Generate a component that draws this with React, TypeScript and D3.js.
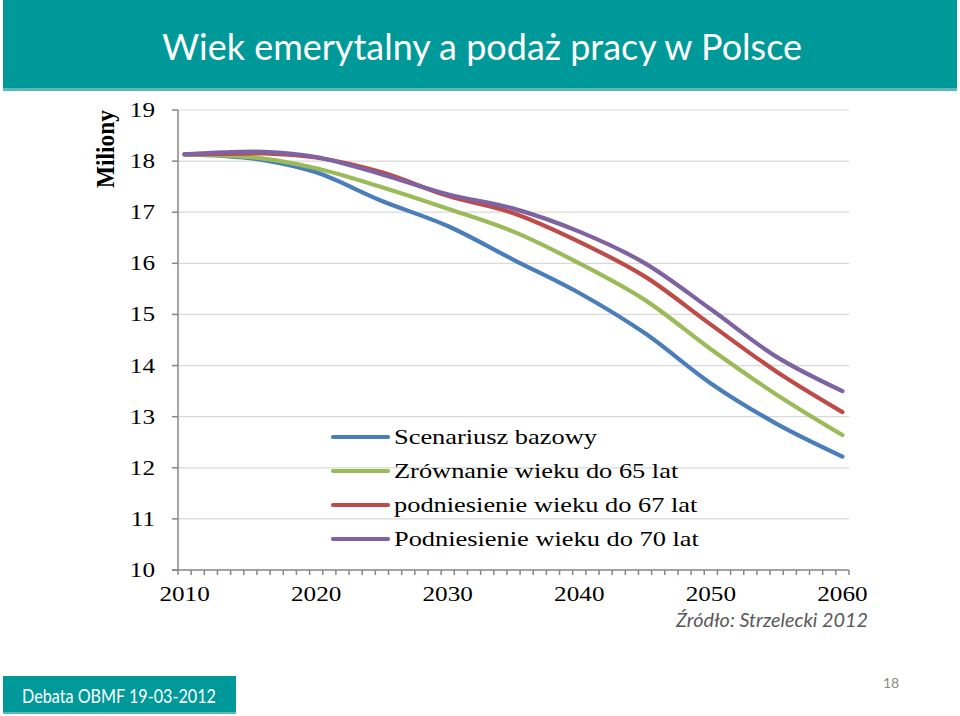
import React from "react";
import * as d3 from "d3";

const years = [2010, 2013, 2016, 2020, 2025, 2030, 2035, 2040, 2045, 2050, 2055, 2060];
const bazowy = [18.13, 18.1, 18.02, 17.78, 17.22, 16.73, 16.07, 15.42, 14.63, 13.65, 12.86, 12.22];
const zrownanie65 = [18.13, 18.11, 18.05, 17.86, 17.49, 17.07, 16.62, 16.0, 15.28, 14.32, 13.43, 12.64];
const podniesienie67 = [18.13, 18.14, 18.15, 18.07, 17.78, 17.32, 16.98, 16.42, 15.74, 14.8, 13.88, 13.09];
const podniesienie70 = [18.13, 18.17, 18.18, 18.08, 17.74, 17.35, 17.07, 16.62, 16.0, 15.1, 14.17, 13.5];

const seriesNames = [
  "Scenariusz bazowy",
  "Zrównanie wieku do 65 lat",
  "podniesienie wieku do 67 lat",
  "Podniesienie wieku do 70 lat",
];
const seriesColors = ["#4a7ebb", "#9bbb59", "#be4b48", "#7f62a1"];
const seriesValues = [bazowy, zrownanie65, podniesienie67, podniesienie70];

const yTicks = [10, 11, 12, 13, 14, 15, 16, 17, 18, 19];
const xTickLabels = [2010, 2020, 2030, 2040, 2050, 2060];

const title = "Wiek emerytalny a podaż pracy w Polsce";
const yAxisTitle = "Miliony";
const sourceText = "Źródło: Strzelecki 2012";
const footerText = "Debata OBMF 19-03-2012";
const pageNumber = "18";

const TEAL = "#009999";
const AXIS = "#868686";
const GRID = "#d9d9d9";
const SERIF = "'Liberation Serif', 'Times New Roman', serif";
const SANS = "Lato, 'Open Sans', sans-serif";

export default function App() {
  const W = 960;
  const H = 716;
  const plotLeft = 178;
  const plotRight = 849;
  const plotTop = 110;
  const plotBottom = 570;

  const x = d3.scaleLinear().domain([2009.5, 2060.5]).range([plotLeft, plotRight]);
  const y = d3.scaleLinear().domain([10, 19]).range([plotBottom, plotTop]);

  const line = d3
    .line<[number, number]>()
    .x((d) => x(d[0]))
    .y((d) => y(d[1]))
    .curve(d3.curveCatmullRom.alpha(0.5));

  const boundaryTicks = d3.range(2009.5, 2061, 1);

  const legendX1 = 333;
  const legendX2 = 388;
  const legendY0 = 437;
  const legendStep = 34;

  return (
    <svg
      width={W}
      height={H}
      viewBox={`0 0 ${W} ${H}`}
      style={{ position: "absolute", left: 0, top: 0, background: "#fff" }}
    >
      {/* header */}
      <rect x={3} y={0} width={954} height={90} fill={TEAL} />
      <rect x={3} y={88} width={954} height={3} fill="#5fb8b8" />
      <text
        x={482}
        y={60}
        textAnchor="middle"
        fill="#fff"
        fontFamily={SANS}
        fontSize={37}
        textLength={640}
        lengthAdjust="spacingAndGlyphs"
      >
        {title}
      </text>

      {/* gridlines */}
      {yTicks
        .filter((t) => t > 10)
        .map((t) => (
          <line key={"g" + t} x1={plotLeft} x2={plotRight} y1={y(t)} y2={y(t)} stroke={GRID} strokeWidth={1.2} />
        ))}

      {/* y axis */}
      <line x1={plotLeft} x2={plotLeft} y1={plotTop} y2={plotBottom} stroke={AXIS} strokeWidth={1.5} />
      {yTicks.map((t) => (
        <line key={"yt" + t} x1={plotLeft - 6} x2={plotLeft} y1={y(t)} y2={y(t)} stroke={AXIS} strokeWidth={1.5} />
      ))}
      {yTicks.map((t) => (
        <text
          key={"yl" + t}
          transform={`translate(155,${y(t) + 7}) scale(1.2,1)`}
          textAnchor="end"
          fontFamily={SERIF}
          fontSize={21}
          fill="#000"
        >
          {t}
        </text>
      ))}
      <text
        transform={`translate(114,149) rotate(-90) scale(0.9,1)`}
        textAnchor="middle"
        fontFamily={SERIF}
        fontWeight="bold"
        fontSize={26}
        fill="#000"
      >
        {yAxisTitle}
      </text>

      {/* x axis */}
      <line x1={plotLeft - 6} x2={plotRight} y1={plotBottom} y2={plotBottom} stroke={AXIS} strokeWidth={1.5} />
      {boundaryTicks.map((t) => (
        <line key={"xt" + t} x1={x(t)} x2={x(t)} y1={plotBottom} y2={plotBottom + 5} stroke={AXIS} strokeWidth={1.5} />
      ))}
      {xTickLabels.map((t) => (
        <text
          key={"xl" + t}
          transform={`translate(${x(t)},601) scale(1.2,1)`}
          textAnchor="middle"
          fontFamily={SERIF}
          fontSize={21}
          fill="#000"
        >
          {t}
        </text>
      ))}

      {/* series */}
      {seriesValues.map((vals, i) => (
        <path
          key={"s" + i}
          d={line(years.map((yr, j) => [yr, vals[j]] as [number, number])) || ""}
          fill="none"
          stroke={seriesColors[i]}
          strokeWidth={4.2}
          strokeLinecap="round"
          strokeLinejoin="round"
        />
      ))}

      {/* legend */}
      {seriesNames.map((name, i) => (
        <g key={"lg" + i}>
          <line
            x1={legendX1}
            x2={legendX2}
            y1={legendY0 + i * legendStep}
            y2={legendY0 + i * legendStep}
            stroke={seriesColors[i]}
            strokeWidth={4.2}
            strokeLinecap="round"
          />
          <text
            transform={`translate(394,${legendY0 + i * legendStep + 7}) scale(1.2,1)`}
            fontFamily={SERIF}
            fontSize={22}
            fill="#000"
          >
            {name}
          </text>
        </g>
      ))}

      {/* source */}
      <text
        x={868}
        y={627}
        textAnchor="end"
        fontFamily={SANS}
        fontStyle="italic"
        fontSize={19}
        textLength={192}
        lengthAdjust="spacingAndGlyphs"
        fill="#595959"
      >
        {sourceText}
      </text>

      {/* footer */}
      <rect x={3} y={676} width={233} height={38} fill={TEAL} />
      <rect x={3} y={712} width={233} height={2} fill="#5fb8b8" />
      <text
        x={119}
        y={703}
        textAnchor="middle"
        fontFamily={SANS}
        fontSize={18.5}
        textLength={194}
        lengthAdjust="spacingAndGlyphs"
        fill="#fff"
      >
        {footerText}
      </text>
      <text x={891} y={688} textAnchor="middle" fontFamily={SANS} fontSize={14} fill="#8a8a8a">
        {pageNumber}
      </text>
    </svg>
  );
}
